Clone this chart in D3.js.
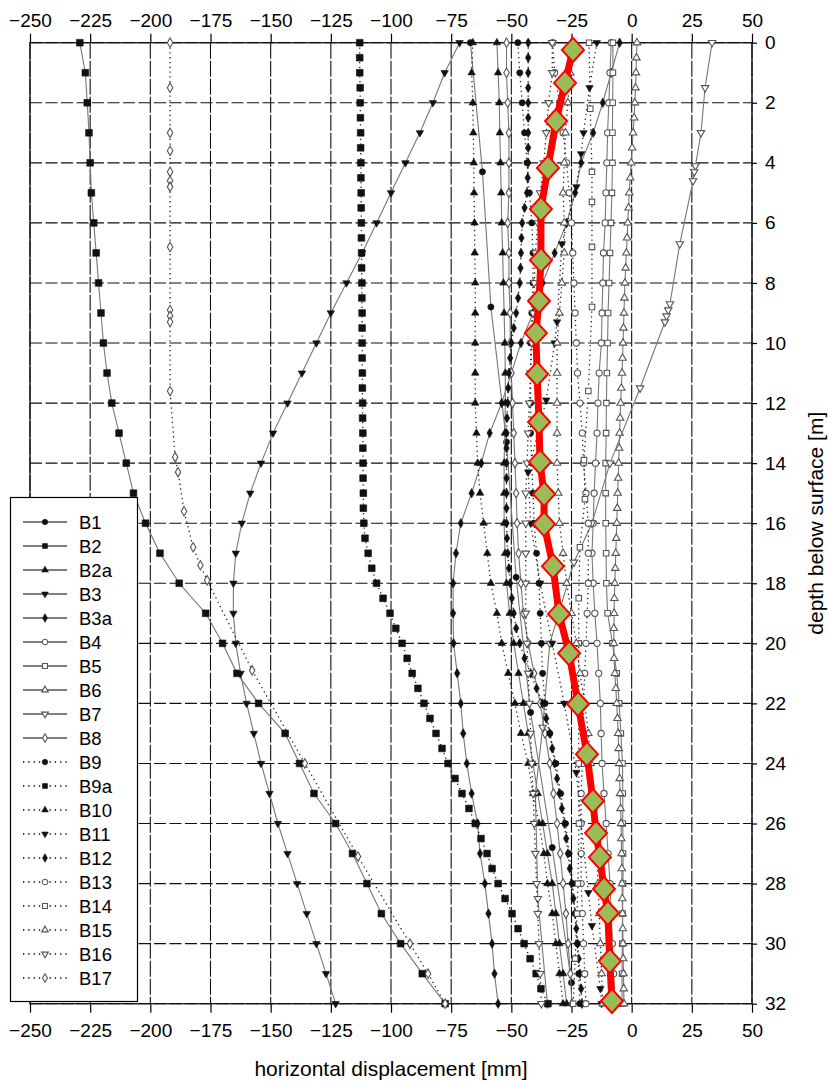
<!DOCTYPE html>
<html><head><meta charset="utf-8">
<script src="https://cdn.jsdelivr.net/npm/d3@7"></script>
<style>
body{margin:0;background:#fff}
svg text{font-family:"Liberation Sans",Arial,sans-serif;fill:#000}
</style>
</head><body><svg id="c" width="830" height="1082"></svg>
<script>
// ---------- data ----------
const xTicks = [-250,-225,-200,-175,-150,-125,-100,-75,-50,-25,0,25,50];
const yTicks = [0,2,4,6,8,10,12,14,16,18,20,22,24,26,28,30,32];

const depth1 = [0,1,2,3,4,5,6,7,8,9,10,11,12,13,14,15,16,17,18,19,20,21,22,23,24,25,26,27,28,29,30,31,32];
const depthHalf = [0,0.5,1,1.5,2,2.5,3,3.5,4,4.5,5,5.5,6,6.5,7,7.5,8,8.5,9,9.5,10,10.5,11,11.5,12,12.5,13,13.5,14,14.5,15,15.5,16,16.5,17,17.5,18,18.5,19,19.5,20,20.5,21,21.5,22,22.5,23,23.5,24,24.5,25,25.5,26,26.5,27,27.5,28,28.5,29,29.5,30,30.5,31,31.5,32];

const depthB1 = [0,4.3,8.8,13.3,17.8,22.3,26.8,31.3];
const valB1   = [-67,-62,-58.5,-52,-48,-42,-33,-25];

const valB2 = [-229.3,-227,-226.2,-225.5,-225,-224.5,-223.5,-222.5,-221.5,-220.5,-219.5,-218,-216,-213,-210,-207,-202,-196,-188,-177,-170,-164,-155,-144,-138,-132,-123,-116,-110,-104,-96,-87,-77.5];

const valB2a = [-56,-55.5,-55,-54.8,-54.5,-54.2,-54,-53.6,-53.3,-53,-52.7,-52.5,-52.5,-52.7,-53,-53,-53,-52.6,-52,-50.7,-49,-47,-45,-43,-41,-39,-37,-35,-33,-31.5,-30,-28.5,-27];

const valB3 = [-71.5,-77.7,-82.6,-88,-94,-100,-106,-112,-118.5,-125,-131,-137,-143,-149,-154,-158.5,-162,-164.5,-165.5,-165.5,-164.5,-162.5,-160,-157,-154,-150.5,-147,-143,-139,-135,-131,-127,-123];

const valB3a = [-5,-8.5,-12,-16,-21,-23.5,-27,-32,-37,-41,-46,-50,-54,-59,-62.5,-66.5,-71,-73,-74.2,-74.2,-74,-72.5,-71,-70,-68.5,-66.5,-64,-63,-61,-59.5,-58,-57,-55.5];

const valB4 = [-8.5,-9,-9.5,-10,-10.3,-10.7,-11,-11.7,-12,-12.3,-12.6,-13.5,-14,-14.4,-15,-15.6,-16,-16.5,-16,-15.3,-14.4,-13.7,-13,-12.7,-12.3,-11.5,-10.6,-9.8,-9,-8.5,-8,-7.5,-7];

const valB5 = [-7.8,-7.8,-7.9,-8,-8,-8.2,-8.6,-9,-9.4,-9.8,-10,-10.3,-10.5,-10.6,-10.8,-10.8,-10.8,-10.6,-10.5,-10,-8,-6.2,-5.2,-4.5,-3.8,-3.7,-3.7,-3.6,-3.6,-3.8,-3.9,-4,-4];

const valB6 = [2.2,2.0,1.8,1.6,1.3,1.0,0.6,0.2,-0.2,-0.6,-1.0,-1.3,-1.6,-1.9,-2.2,-2.5,-2.8,-3.0,-3.2,-3.4,-3.6,-3.8,-4.0,-4.3,-4.6,-4.8,-5.0,-5.2,-5.4,-5.6,-5.8,-6.0,-6.2,-6.4,-6.6,-6.8,-7.0,-7.2,-7.3,-7.4,-7.4,-7.3,-7.0,-6.6,-6.2,-5.9,-5.6,-5.4,-5.2,-5.0,-4.8,-4.6,-4.4,-4.3,-4.2,-4.1,-4.0,-3.9,-3.8,-3.7,-3.6,-3.5,-3.4,-3.3,-3.2];

const depthB7 = [0,1.5,3,4.1,4.3,4.6,6.7,8.7,8.9,9.1,9.3,11.5,14,16,17.3,20,22.8,25,28.5,32];
const valB7   = [33.4,30.5,28.8,26.5,26,25.5,20,15.9,15.2,14.5,13.8,3.5,-9,-16.5,-24,-34,-37,-40,-39,-35];

const valB8 = [-52,-52,-51.5,-51,-51,-51,-51.5,-51,-51,-50.5,-50.5,-50,-49.5,-49,-48.5,-48,-47.6,-47,-46,-45,-43,-40.5,-38,-36,-34,-32.5,-31,-29.7,-28.5,-27.3,-26.4,-25.5,-24.8];

const valB9 = [-47.3,-46.5,-45.5,-44.5,-43.5,-42.5,-41.5,-41,-41,-41.5,-42,-42,-42,-42,-41.5,-41,-40.5,-39.5,-38.5,-38,-37.5,-37,-36,-34,-31.5,-29.5,-27.5,-26,-24.5,-23.5,-22.5,-22,-21.5];

const valB9a = [-113,-113,-113,-112.8,-112.8,-112.7,-112.6,-112.6,-112.5,-112.5,-112.4,-112.4,-112.3,-112.3,-112.2,-112.2,-112.1,-112.1,-112,-112,-112,-112,-111.9,-111.9,-111.8,-111.8,-111.7,-111.7,-111.6,-111.6,-111.5,-111.5,-111.3,
 -110.8,-109.5,-108,-106,-103.3,-100.4,-98,-95.4,-93.3,-91.2,-88.8,-86.3,-83.8,-81.3,-78.8,-76.3,-73.4,-70.5,-67.6,-65,-62.6,-60.1,-58,-55.5,-52.6,-49.7,-47.2,-44.7,-42.2,-39.7,-37.7,-34.8];

const valB10 = [-66,-66.5,-66,-65.8,-65.6,-65.5,-65.3,-65.2,-65,-65,-65,-65,-65,-64.5,-64,-63,-61.5,-60,-58.5,-56,-54,-51.3,-48.5,-46,-43,-41,-38.5,-36.5,-35,-33,-31.5,-30,-28.5];

const depthB11 = [0,1.5,3,3.7,4.8,6.7,9.3,10,11.9,14.3,16,18,20,22,24.3,26,28.3,29.4,31.5,32];
const valB11   = [-14.5,-17.5,-20,-21,-23,-29,-31,-32,-35.5,-43,-42,-38,-33,-28,-23,-21,-18,-16.5,-13,-12.5];

const valB12 = [-43,-43,-43,-43,-43,-43,-43,-43,-43,-43.2,-43.5,-44.5,-45.5,-45.8,-46,-46.2,-46.5,-47.2,-48,-49,-50,-50.5,-51,-51.3,-51.5,-51.8,-52,-52,-52,-52,-52,-52,-52,-51.8,-51.5,-51,-50.5,-49.8,-49,-48,-46.5,-44.5,-42,-39.5,-37,-35.5,-34,-33,-32,-31,-30,-29,-28,-27.2,-26.5,-25.7,-25,-24.2,-23.5,-23,-22.5,-22,-21.5,-21,-20.6];

const valB13 = [-32.8,-32,-30,-28.5,-27,-26,-25,-24.5,-24,-23.5,-23,-22.5,-21.5,-20.5,-20,-19,-18,-18,-18,-18.5,-19,-19.5,-20,-20,-20.5,-21,-21,-21,-21,-20.5,-20,-19.5,-19];

const depthB14 = [0,2.2,4.3,5.3,6.8,8.8,11.6,13.9,15.2,16.8,18.5,20,22,24,26,28,29,30.5,32];
const valB14   = [-17.7,-17.2,-16.5,-16.5,-16.5,-16.5,-18,-19.8,-19.4,-21.5,-22,-22,-22,-22,-21.9,-22.3,-22.7,-23.5,-24.3];

const valB15 = [-25,-25.5,-26.5,-27.5,-28,-28.5,-28,-28,-29,-30,-31,-31,-31,-31,-31,-30.5,-30,-28.5,-27,-25,-23,-21.5,-19.5,-18,-17,-16,-15,-14.5,-14,-13.5,-13,-12.5,-12];

const valB16 = [-33,-33,-34.5,-35.5,-36.5,-38,-39,-40,-40.5,-41,-41.5,-42,-42.5,-43,-43.5,-44,-44,-44,-44,-44,-43.5,-43,-42.5,-42,-41.5,-41,-40.5,-40,-39.5,-39,-38.5,-38,-37.5];

const depthB17 = [0,1.5,3,3.6,4.3,4.6,4.8,6.8,8.9,9.1,9.3,11.6,13.8,14.3,15.6,16.8,17.4,17.9,20.9,24,27.1,30,31,32];
const valB17   = [-191.8,-191.8,-191.8,-191.8,-191.8,-191.8,-191.8,-191.8,-191.8,-191.8,-191.8,-191.8,-189.7,-188.5,-186,-182.2,-179.2,-176.4,-157.7,-135.8,-113.7,-92.1,-84.6,-77.5];

const depthRed = [0.24,1.34,2.61,4.17,5.54,7.24,8.6,9.67,11.03,12.63,13.96,15.03,16.03,17.43,19.02,20.33,22.02,23.69,25.25,26.32,27.12,28.18,28.98,30.58,31.91];
const valRed   = [-24.4,-27.7,-31.4,-34.8,-37.7,-37.7,-38.5,-39.8,-39.3,-38.5,-38.1,-36.4,-36.4,-32.7,-30.2,-26,-22.3,-18.6,-16.1,-14.8,-13.2,-11.5,-9.9,-9.1,-8.2];

const names  = ["B1","B2","B2a","B3","B3a","B4","B5","B6","B7","B8","B9","B9a","B10","B11","B12","B13","B14","B15","B16","B17"];
const shapes = ["circle","square","tri","trid","diamond","circle","square","tri","trid","diamond","circle","square","tri","trid","diamond","circle","square","tri","trid","diamond"];
const filled = [1,1,1,1,1,0,0,0,0,0,1,1,1,1,1,0,0,0,0,0];
const dotted = [0,0,0,0,0,0,0,0,0,0,1,1,1,1,1,1,1,1,1,1];
const depths = [depthB1,depth1,depth1,depth1,depth1,depth1,depth1,depthHalf,depthB7,depth1,depth1,depthHalf,depth1,depthB11,depthHalf,depth1,depthB14,depth1,depth1,depthB17];
const values = [valB1,valB2,valB2a,valB3,valB3a,valB4,valB5,valB6,valB7,valB8,valB9,valB9a,valB10,valB11,valB12,valB13,valB14,valB15,valB16,valB17];

// ---------- chart ----------
const svg = d3.select("#c");
const L=30, R=752, T=42.7, B=1003.7;
const x = d3.scaleLinear().domain([-250,50]).range([L,R]);
const y = d3.scaleLinear().domain([0,32]).range([T,B]);

// grid
const grid = svg.append("g");
grid.selectAll(".vg").data(xTicks).join("line")
  .attr("x1",d=>x(d)).attr("x2",d=>x(d)).attr("y1",T).attr("y2",B)
  .attr("stroke","#111").attr("stroke-width",1.1).attr("stroke-dasharray","16,2");
grid.selectAll(".hg").data(yTicks).join("line")
  .attr("x1",L).attr("x2",R).attr("y1",d=>y(d)).attr("y2",d=>y(d))
  .attr("stroke","#111").attr("stroke-width",1.1).attr("stroke-dasharray","12,3.5");
grid.append("rect").attr("x",L).attr("y",T).attr("width",R-L).attr("height",B-T)
  .attr("fill","none").attr("stroke","#111").attr("stroke-width",1.3);

// axes
const fs = "19px";
const axTop = svg.append("g").attr("transform",`translate(0,${T})`)
  .call(d3.axisTop(x).tickValues(xTicks).tickSize(9).tickSizeOuter(0).tickPadding(7));
const axBot = svg.append("g").attr("transform",`translate(0,${B})`)
  .call(d3.axisBottom(x).tickValues(xTicks).tickSize(9).tickSizeOuter(0).tickPadding(11));
const axRgt = svg.append("g").attr("transform",`translate(${R},0)`)
  .call(d3.axisRight(y).tickValues(yTicks).tickSize(5).tickSizeOuter(0).tickPadding(8));
[axTop,axBot,axRgt].forEach(g=>{
  g.select(".domain").remove();
  g.selectAll("line").attr("stroke","#000").attr("stroke-width",1.2);
  g.selectAll("text").style("font-size",fs).style("font-family",'"Liberation Sans",Arial,sans-serif').attr("fill","#000");
});

svg.append("text").attr("x",(L+R)/2).attr("y",1076).attr("text-anchor","middle")
  .style("font-size","21px").text("horizontal displacement [mm]");
svg.append("text").attr("transform",`translate(823,${(T+B)/2}) rotate(-90)`).attr("text-anchor","middle")
  .style("font-size","21px").text("depth below surface [m]");

// marker helper
function sym(shape, size){
  const t = {circle:d3.symbolCircle,square:d3.symbolSquare,tri:d3.symbolTriangle,trid:d3.symbolTriangle,diamond:d3.symbolDiamond}[shape];
  return d3.symbol().type(t).size(size)();
}
function drawMarker(g, shape, isFilled, cx, cy, scale){
  const s = scale||1;
  const base = shape==="tri"||shape==="trid" ? 24 : (shape==="diamond"? 26 : 30);
  const size = base*s;
  g.append("path").attr("d",sym(shape,size))
    .attr("transform",`translate(${cx},${cy})`+(shape==="trid"?" rotate(180)":""))
    .attr("fill", isFilled? "#111":"#fff")
    .attr("stroke", isFilled? "#111":"#555")
    .attr("stroke-width", isFilled? 0.6:1.1);
}

const line = d3.line().x(d=>x(d[1])).y(d=>y(d[0]));
const plot = svg.append("g");
names.forEach((n,i)=>{
  const pts = depths[i].map((d,k)=>[d,values[i][k]]).filter(p=>p[1]!==undefined);
  const g = plot.append("g");
  g.append("path").datum(pts).attr("d",line).attr("fill","none")
    .attr("stroke", dotted[i]? "#222":"#777")
    .attr("stroke-width", dotted[i]? 1.3:1.1)
    .attr("stroke-dasharray", dotted[i]? "1.3,3.5":null);
  pts.forEach(p=>drawMarker(g, shapes[i], filled[i], x(p[1]), y(p[0]), (i===1||i===11)?1.5:1));
});

// red highlighted profile
const red = depthRed.map((d,k)=>[d,valRed[k]]);
plot.append("path").datum(red).attr("d",line).attr("fill","none")
  .attr("stroke","#ff0000").attr("stroke-width",7).attr("stroke-linejoin","round");
plot.selectAll(".rd").data(red).join("path")
  .attr("d","M0,-12L11,0L0,12L-11,0Z")
  .attr("transform",d=>`translate(${x(d[1])},${y(d[0])})`)
  .attr("fill","#9bbb59").attr("stroke","#ff0000").attr("stroke-width",2);

// legend
const lg = svg.append("g");
lg.append("rect").attr("x",10.5).attr("y",497.5).attr("width",127).attr("height",504)
  .attr("fill","#fff").attr("stroke","#000").attr("stroke-width",1.2);
names.forEach((n,i)=>{
  const yy = 522 + i*24;
  lg.append("line").attr("x1",23).attr("x2",67).attr("y1",yy).attr("y2",yy)
    .attr("stroke","#000").attr("stroke-width", dotted[i]?1.3:1.2)
    .attr("stroke-dasharray", dotted[i]? "1.3,4":null);
  drawMarker(lg, shapes[i], filled[i], 45, yy, 0.8);
  lg.append("text").attr("x",79).attr("y",yy).attr("dy","0.36em")
    .style("font-size","18.5px").text(n);
});
</script></body></html>
